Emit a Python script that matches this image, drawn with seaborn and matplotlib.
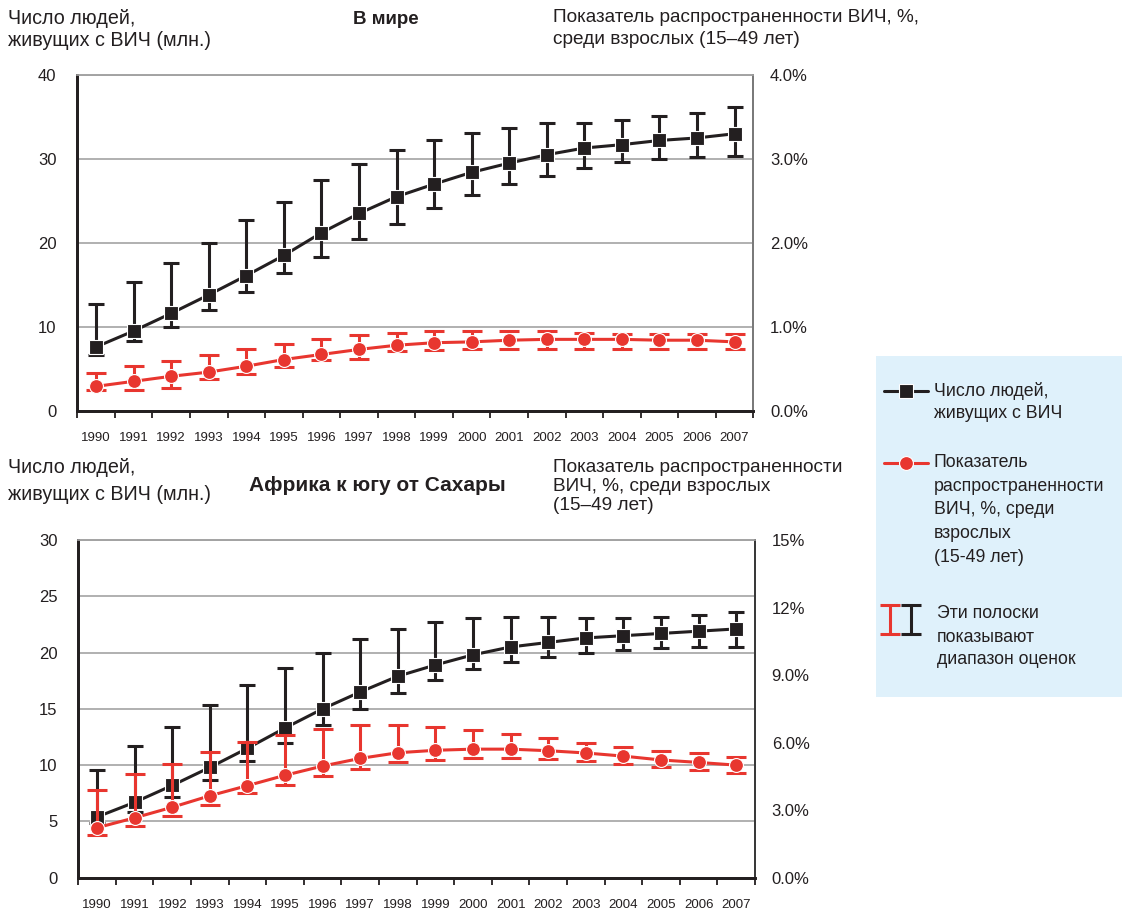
import matplotlib
matplotlib.use("Agg")
import matplotlib.pyplot as plt
from matplotlib import font_manager
from matplotlib.lines import Line2D
import seaborn as sns
import pandas as pd

# ---- data -------------------------------------------------------------
years = list(range(1990, 2008))

# World: people living with HIV (millions) and the estimate range
world_people = [7.6, 9.5, 11.6, 13.8, 16.1, 18.5, 21.2, 23.5, 25.5, 27.0,
                28.4, 29.5, 30.5, 31.3, 31.7, 32.2, 32.5, 33.0]
world_people_low = [6.6, 8.3, 10.0, 12.0, 14.2, 16.4, 18.3, 20.4, 22.3, 24.2,
                    25.7, 27.0, 28.0, 28.9, 29.6, 30.0, 30.2, 30.3]
world_people_high = [12.7, 15.3, 17.6, 20.0, 22.7, 24.9, 27.5, 29.4, 31.1, 32.2,
                     33.1, 33.7, 34.3, 34.3, 34.6, 35.1, 35.5, 36.2]

# World: adult (15-49) HIV prevalence, %
world_prev = [0.29, 0.35, 0.41, 0.46, 0.53, 0.61, 0.67, 0.73, 0.78, 0.81,
              0.82, 0.84, 0.85, 0.85, 0.85, 0.84, 0.84, 0.82]
world_prev_low = [0.25, 0.25, 0.27, 0.38, 0.44, 0.52, 0.60, 0.62, 0.71, 0.72,
                  0.73, 0.73, 0.73, 0.73, 0.73, 0.73, 0.73, 0.73]
world_prev_high = [0.45, 0.53, 0.59, 0.66, 0.73, 0.79, 0.85, 0.90, 0.93, 0.95,
                   0.95, 0.95, 0.95, 0.92, 0.91, 0.91, 0.91, 0.91]

# Sub-Saharan Africa: people living with HIV (millions)
ssa_people = [5.4, 6.7, 8.2, 9.8, 11.5, 13.3, 15.0, 16.5, 17.9, 18.9,
              19.8, 20.5, 20.9, 21.3, 21.5, 21.7, 21.9, 22.1]
ssa_people_low = [4.9, 5.8, 7.2, 8.7, 10.4, 12.0, 13.6, 15.0, 16.4, 17.6,
                  18.5, 19.2, 19.6, 20.0, 20.2, 20.4, 20.5, 20.5]
ssa_people_high = [9.6, 11.7, 13.4, 15.3, 17.1, 18.6, 20.0, 21.2, 22.1, 22.7,
                   23.1, 23.2, 23.2, 23.1, 23.1, 23.2, 23.3, 23.6]

# Sub-Saharan Africa: adult (15-49) HIV prevalence, %
ssa_prev = [2.22, 2.66, 3.13, 3.64, 4.09, 4.55, 4.96, 5.30, 5.55, 5.66,
            5.71, 5.71, 5.64, 5.54, 5.40, 5.23, 5.12, 5.00]
ssa_prev_low = [1.91, 2.31, 2.75, 3.23, 3.75, 4.13, 4.53, 4.84, 5.12, 5.23,
                5.33, 5.33, 5.26, 5.17, 5.05, 4.93, 4.78, 4.64]
ssa_prev_high = [3.90, 4.59, 5.05, 5.60, 6.03, 6.32, 6.60, 6.78, 6.78, 6.70,
                 6.56, 6.38, 6.19, 6.00, 5.79, 5.63, 5.52, 5.37]

# axis ticks
world_left_ticks = [0, 10, 20, 30, 40]
world_right_ticks = [0, 1, 2, 3, 4]
world_right_labels = ["0.0%", "1.0%", "2.0%", "3.0%", "4.0%"]
ssa_left_ticks = [0, 5, 10, 15, 20, 25, 30]
ssa_right_ticks = [0, 3, 6, 9, 12, 15]
ssa_right_labels = ["0.0%", "3.0%", "6.0%", "9.0%", "12%", "15%"]

# ---- style ------------------------------------------------------------
sns.set_theme(style="white")
installed = {f.name for f in font_manager.fontManager.ttflist}
HAS_NARROW = "Liberation Sans Narrow" in installed
NARROW = [f for f in ["Liberation Sans Narrow", "Liberation Sans", "DejaVu Sans"] if f in installed]
REGULAR = [f for f in ["Liberation Sans", "DejaVu Sans"] if f in installed]
plt.rcParams["font.family"] = REGULAR
# narrow face is rendered larger than the regular fallback for the same width
K = 1.18 if HAS_NARROW else 1.0
XTICK_SIZE = 9.5 * K

BLACK = "#231f20"
RED = "#e8362f"
GRID = "#a3a3a3"
TXT = "#231f20"

W, H = 1122, 918
fig = plt.figure(figsize=(W / 100, H / 100), dpi=100)


def fig_box(l, t, r, b):
    return [l / W, 1 - b / H, (r - l) / W, (b - t) / H]


def draw_panel(ax, people, p_low, p_high, prev, v_low, v_high,
               left_max, left_ticks, right_max, right_ticks, right_labels,
               right_spine_color):
    df = pd.DataFrame({"year": years, "people": people, "prev": prev})
    # black series: people living with HIV
    ax.errorbar(years, people,
                yerr=[[p - lo for p, lo in zip(people, p_low)],
                      [hi - p for p, hi in zip(people, p_high)]],
                fmt="none", ecolor=BLACK, elinewidth=2.2, capsize=6, capthick=2.2,
                zorder=2)
    sns.lineplot(data=df, x="year", y="people", ax=ax, color=BLACK,
                 linewidth=2.2, marker="s", markersize=10,
                 markeredgecolor="white", markeredgewidth=0.8, zorder=3)
    ax.set_xlim(1989.5, 2007.5)
    ax.set_ylim(0, left_max)
    ax.set_yticks(left_ticks)
    ax.set_yticklabels([str(t) for t in left_ticks])
    ax.yaxis.grid(True, color=GRID, linewidth=1.2)
    ax.set_axisbelow(True)
    ax.set_xlabel("")
    ax.set_ylabel("")

    # red series: adult prevalence, on the right-hand axis
    ax2 = ax.twinx()
    ax2.errorbar(years, prev,
                 yerr=[[p - lo for p, lo in zip(prev, v_low)],
                       [hi - p for p, hi in zip(prev, v_high)]],
                 fmt="none", ecolor=RED, elinewidth=2.2, capsize=7, capthick=2.2,
                 zorder=2)
    sns.lineplot(data=df, x="year", y="prev", ax=ax2, color=RED,
                 linewidth=2.2, marker="o", markersize=10,
                 markeredgecolor="white", markeredgewidth=0.8, zorder=3)
    ax2.set_ylim(0, right_max)
    ax2.set_yticks(right_ticks)
    ax2.set_yticklabels(right_labels)
    ax2.set_ylabel("")
    ax2.grid(False)

    # x axis: labels centred on each year, ticks on category boundaries
    ax.set_xticks(years)
    ax.set_xticklabels([str(y) for y in years], fontfamily=NARROW,
                       fontsize=XTICK_SIZE, color=TXT)
    ax.set_xticks([y - 0.5 for y in years] + [years[-1] + 0.5], minor=True)
    ax.tick_params(axis="x", which="major", length=0, pad=15)
    ax.tick_params(axis="x", which="minor", length=5, width=1.3,
                   direction="out", color=BLACK, bottom=True)
    ax.tick_params(axis="y", length=0, pad=15, labelsize=12, labelcolor=TXT)
    ax2.tick_params(axis="y", length=0, pad=12, labelsize=12, labelcolor=TXT)

    for a in (ax, ax2):
        a.spines["left"].set_color(BLACK)
        a.spines["left"].set_linewidth(2.0)
        a.spines["bottom"].set_color(BLACK)
        a.spines["bottom"].set_linewidth(2.0)
        a.spines["top"].set_color(GRID)
        a.spines["top"].set_linewidth(1.2)
        a.spines["right"].set_color(right_spine_color)
        a.spines["right"].set_linewidth(1.4)
    ax.patch.set_visible(False)
    return ax2


# ---- world panel -------------------------------------------------------
ax_w = fig.add_axes(fig_box(77.3, 75, 753.3, 410.7))
draw_panel(ax_w, world_people, world_people_low, world_people_high,
           world_prev, world_prev_low, world_prev_high,
           40, world_left_ticks, 4, world_right_ticks, world_right_labels,
           "#7a7a7a")

# ---- sub-Saharan Africa panel -----------------------------------------
ax_a = fig.add_axes(fig_box(78.3, 540, 755, 877.7))
draw_panel(ax_a, ssa_people, ssa_people_low, ssa_people_high,
           ssa_prev, ssa_prev_low, ssa_prev_high,
           30, ssa_left_ticks, 15, ssa_right_ticks, ssa_right_labels,
           "#3a3a3a")


# ---- headers ---------------------------------------------------------
def ftext(x, y, s, size, **kw):
    kw.setdefault("fontfamily", NARROW)
    kw.setdefault("color", TXT)
    kw.setdefault("va", "center")
    fig.text(x / W, 1 - y / H, s, fontsize=size * K, **kw)


LEFT_HEAD = 14.2
RIGHT_HEAD = 13.7

ftext(8, 18, "Число людей,", LEFT_HEAD)
ftext(8, 40, "живущих с ВИЧ (млн.)", LEFT_HEAD)
ftext(386, 20, "В мире", 13.5, ha="center", fontweight="bold")
ftext(553, 18, "Показатель распространенности ВИЧ, %,", RIGHT_HEAD)
ftext(553, 40, "среди взрослых (15–49 лет)", RIGHT_HEAD)

ftext(8, 468, "Число людей,", LEFT_HEAD)
ftext(8, 494, "живущих с ВИЧ (млн.)", LEFT_HEAD)
ftext(377, 485, "Африка к югу от Сахары", 15, ha="center", fontweight="bold")
ftext(553, 468, "Показатель распространенности", RIGHT_HEAD)
ftext(553, 487, "ВИЧ, %, среди взрослых", RIGHT_HEAD)
ftext(553, 506, "(15–49 лет)", RIGHT_HEAD)

# ---- legend box --------------------------------------------------------
LX0, LY0, LX1, LY1 = 876, 356, 1122, 697
leg = fig.add_axes(fig_box(LX0, LY0, LX1, LY1))
leg.set_xlim(LX0, LX1)
leg.set_ylim(LY1, LY0)
leg.set_facecolor("#dff1fb")
for s in leg.spines.values():
    s.set_visible(False)
leg.set_xticks([])
leg.set_yticks([])

leg.add_line(Line2D([884, 928], [391, 391], color=BLACK, linewidth=2.2))
leg.add_line(Line2D([906], [391], color=BLACK, marker="s", markersize=10,
                    markeredgecolor="white", markeredgewidth=0.8))
leg.add_line(Line2D([884, 928], [463, 463], color=RED, linewidth=2.2))
leg.add_line(Line2D([906], [463], color=RED, marker="o", markersize=10,
                    markeredgecolor="white", markeredgewidth=0.8))
leg.errorbar([890], [619.5], yerr=[[14.5], [14.5]], fmt="none", ecolor=RED,
             elinewidth=2.2, capsize=7, capthick=2.2)
leg.errorbar([911], [619.5], yerr=[[14.5], [14.5]], fmt="none", ecolor=BLACK,
             elinewidth=2.2, capsize=7, capthick=2.2)

leg_lines = [
    (934, 391, "Число людей,"),
    (934, 413, "живущих с ВИЧ"),
    (934, 462, "Показатель"),
    (934, 486, "распространенности"),
    (934, 509, "ВИЧ, %, среди"),
    (934, 533, "взрослых"),
    (934, 557, "(15-49 лет)"),
    (937, 613, "Эти полоски"),
    (937, 637, "показывают"),
    (937, 660, "диапазон оценок"),
]
for x, y, s in leg_lines:
    leg.text(x, y, s, fontsize=12.8, color=TXT, va="center", ha="left",
             fontfamily=REGULAR)

fig.savefig("out.png", dpi=100)
